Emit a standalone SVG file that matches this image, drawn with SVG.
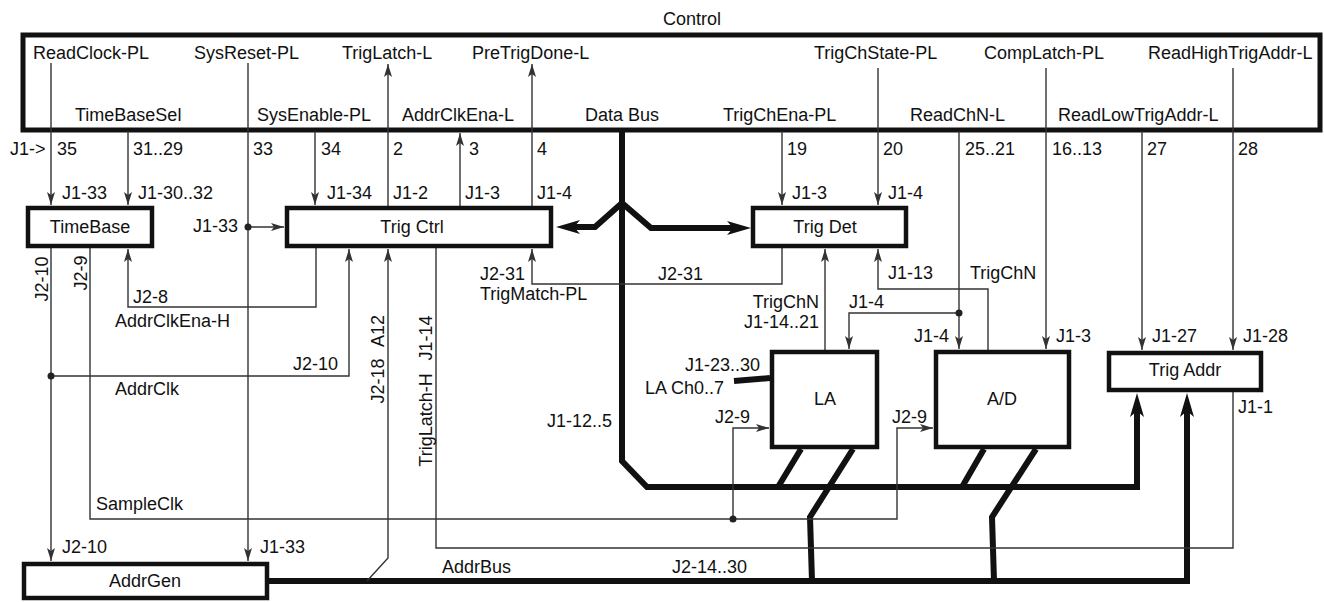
<svg xmlns="http://www.w3.org/2000/svg" width="1324" height="602" viewBox="0 0 1324 602">
<style>
.t{font-family:"Liberation Sans",Arial,sans-serif;font-size:18px;fill:#111}
.m{text-anchor:middle}
.e{text-anchor:end}
.ln{fill:none;stroke:#333;stroke-width:1.4}
.ar{marker-end:url(#a)}
.bus{fill:none;stroke:#111;stroke-width:6;stroke-linejoin:miter}
.ba{marker-end:url(#b)}
.nd rect{fill:#fff;stroke:#111;stroke-width:4.5}
.dot{fill:#222}
</style>
<defs>
<marker id="a" viewBox="0 0 13 8" refX="13" refY="4" markerWidth="13" markerHeight="8" markerUnits="userSpaceOnUse" orient="auto"><path d="M0,0 L13,4 L0,8 L3,4 z" fill="#333"/></marker>
<marker id="b" viewBox="0 0 24 14" refX="6" refY="7" markerWidth="24" markerHeight="14" markerUnits="userSpaceOnUse" orient="auto"><path d="M0,0 L24,7 L0,14 L6,7 z" fill="#111"/></marker>
</defs>
<rect width="1324" height="602" fill="#fff"/>

<g id="control">
<rect x="23" y="35" width="1297" height="95" fill="none" stroke="#111" stroke-width="5"/>
<text class="t" x="663" y="25">Control</text>
<text class="t" x="33" y="59">ReadClock-PL</text>
<text class="t" x="194" y="59">SysReset-PL</text>
<text class="t" x="342" y="59">TrigLatch-L</text>
<text class="t" x="472" y="59">PreTrigDone-L</text>
<text class="t" x="814" y="59">TrigChState-PL</text>
<text class="t" x="984" y="59">CompLatch-PL</text>
<text class="t" x="1148" y="59">ReadHighTrigAddr-L</text>
<text class="t" x="75" y="121">TimeBaseSel</text>
<text class="t" x="257" y="121">SysEnable-PL</text>
<text class="t" x="402" y="121">AddrClkEna-L</text>
<text class="t" x="585" y="121">Data Bus</text>
<text class="t" x="723" y="121">TrigChEna-PL</text>
<text class="t" x="910" y="121">ReadChN-L</text>
<text class="t" x="1058" y="121">ReadLowTrigAddr-L</text>
</g>

<g id="connectors">
<!-- buses -->
<path class="bus ba" d="M622,131 L622,461 L647,487 L1137,487 L1137,411"/>
<path class="bus ba" d="M622,203 L595,227 L574,227"/>
<path class="bus ba" d="M622,203 L651,228 L733,228"/>
<path class="bus ba" d="M269,581 L1187,581 L1187,411"/>
<path class="bus" d="M801,449 L778,487"/>
<path class="bus" d="M853,449 L810,517 L812,581"/>
<path class="bus" d="M984,449 L962,487"/>
<path class="bus" d="M1036,449 L992,517 L994,581"/>
<path class="bus" d="M734,381 L770,378"/>
<!-- thin lines -->
<path class="ln ar" d="M51,63 L51,205"/>
<path class="ln ar" d="M128,131 L128,205"/>
<path class="ln ar" d="M248,63 L248,561"/>
<path class="ln ar" d="M248,227 L284,227"/>
<path class="ln ar" d="M315,131 L315,205"/>
<path class="ln ar" d="M388,206 L388,64"/>
<path class="ln ar" d="M460,206 L460,133"/>
<path class="ln ar" d="M532,206 L532,64"/>
<path class="ln ar" d="M782,131 L782,205"/>
<path class="ln ar" d="M878,68 L878,205"/>
<path class="ln ar" d="M959,131 L959,349"/>
<path class="ln ar" d="M959,313 L849,313 L849,349"/>
<path class="ln ar" d="M1046,68 L1046,349"/>
<path class="ln ar" d="M1142,131 L1142,350"/>
<path class="ln ar" d="M1233,68 L1233,350"/>
<path class="ln ar" d="M51,248 L51,561"/>
<path class="ln ar" d="M51,376 L349,376 L349,249"/>
<path class="ln ar" d="M90,248 L90,519 L897,519 L897,428 L933,428"/>
<path class="ln ar" d="M733,519 L733,428 L769,428"/>
<path class="ln ar" d="M316,248 L316,307 L128,307 L128,249"/>
<path class="ln ar" d="M367,581 L388,558 L388,249"/>
<path class="ln" d="M1233,392 L1233,548 L436,548 L436,248"/>
<path class="ln ar" d="M782,248 L782,284 L532,284 L532,249"/>
<path class="ln ar" d="M825,350 L825,249"/>
<path class="ln ar" d="M988,350 L988,289 L878,289 L878,249"/>
<circle class="dot" cx="248" cy="227" r="3.5"/>
<circle class="dot" cx="51" cy="376" r="3.5"/>
<circle class="dot" cx="733" cy="519" r="3.5"/>
<circle class="dot" cx="959" cy="313" r="3.5"/>
<!-- labels -->
<text class="t" x="10" y="155">J1-&gt;</text>
<text class="t" x="57" y="155">35</text>
<text class="t" x="133" y="155">31..29</text>
<text class="t" x="253" y="155">33</text>
<text class="t" x="321" y="155">34</text>
<text class="t" x="393" y="155">2</text>
<text class="t" x="469" y="155">3</text>
<text class="t" x="537" y="155">4</text>
<text class="t" x="787" y="155">19</text>
<text class="t" x="883" y="155">20</text>
<text class="t" x="965" y="155">25..21</text>
<text class="t" x="1052" y="155">16..13</text>
<text class="t" x="1147" y="155">27</text>
<text class="t" x="1238" y="155">28</text>
<text class="t" x="62" y="199">J1-33</text>
<text class="t" x="138" y="199">J1-30..32</text>
<text class="t" x="327" y="199">J1-34</text>
<text class="t" x="393" y="199">J1-2</text>
<text class="t" x="465" y="199">J1-3</text>
<text class="t" x="537" y="199">J1-4</text>
<text class="t" x="792" y="199">J1-3</text>
<text class="t" x="888" y="199">J1-4</text>
<text class="t" x="193" y="232">J1-33</text>
<text class="t" x="133" y="303">J2-8</text>
<text class="t" x="115" y="327">AddrClkEna-H</text>
<text class="t" x="293" y="370">J2-10</text>
<text class="t" x="115" y="395">AddrClk</text>
<text class="t" x="96" y="510">SampleClk</text>
<text class="t" x="62" y="553">J2-10</text>
<text class="t" x="260" y="553">J1-33</text>
<text class="t" x="480" y="280">J2-31</text>
<text class="t" x="480" y="300">TrigMatch-PL</text>
<text class="t" x="658" y="280">J2-31</text>
<text class="t e" x="819" y="308">TrigChN</text>
<text class="t e" x="819" y="328">J1-14..21</text>
<text class="t" x="849" y="308">J1-4</text>
<text class="t" x="914" y="342">J1-4</text>
<text class="t" x="888" y="279">J1-13</text>
<text class="t" x="970" y="279">TrigChN</text>
<text class="t" x="1056" y="342">J1-3</text>
<text class="t" x="1152" y="342">J1-27</text>
<text class="t" x="1243" y="342">J1-28</text>
<text class="t" x="1238" y="413">J1-1</text>
<text class="t" x="685" y="371">J1-23..30</text>
<text class="t e" x="724" y="394">LA Ch0..7</text>
<text class="t" x="715" y="423">J2-9</text>
<text class="t" x="892" y="423">J2-9</text>
<text class="t" x="547" y="427">J1-12..5</text>
<text class="t" x="442" y="573">AddrBus</text>
<text class="t" x="672" y="573">J2-14..30</text>
<text class="t m" transform="translate(48,279) rotate(-90)">J2-10</text>
<text class="t m" transform="translate(87,273) rotate(-90)">J2-9</text>
<text class="t m" transform="translate(384,381) rotate(-90)">J2-18</text>
<text class="t m" transform="translate(384,331) rotate(-90)">A12</text>
<text class="t m" transform="translate(432,420) rotate(-90)">TrigLatch-H</text>
<text class="t m" transform="translate(432,338) rotate(-90)">J1-14</text>
</g>

<g id="timebase" class="nd"><rect x="28" y="208" width="124" height="38"/><text class="t m" x="90" y="233">TimeBase</text></g>
<g id="trigctrl" class="nd"><rect x="287" y="208" width="264" height="38"/><text class="t m" x="412" y="233">Trig Ctrl</text></g>
<g id="trigdet" class="nd"><rect x="753" y="208" width="153" height="38"/><text class="t m" x="825" y="233">Trig Det</text></g>
<g id="la" class="nd"><rect x="772" y="352" width="105" height="95"/><text class="t m" x="825" y="405">LA</text></g>
<g id="ad" class="nd"><rect x="936" y="352" width="133" height="95"/><text class="t m" x="1002" y="405">A/D</text></g>
<g id="trigaddr" class="nd"><rect x="1109" y="353" width="152" height="37"/><text class="t m" x="1185" y="376">Trig Addr</text></g>
<g id="addrgen" class="nd"><rect x="24" y="564" width="243" height="34"/><text class="t m" x="145" y="587">AddrGen</text></g>
</svg>
